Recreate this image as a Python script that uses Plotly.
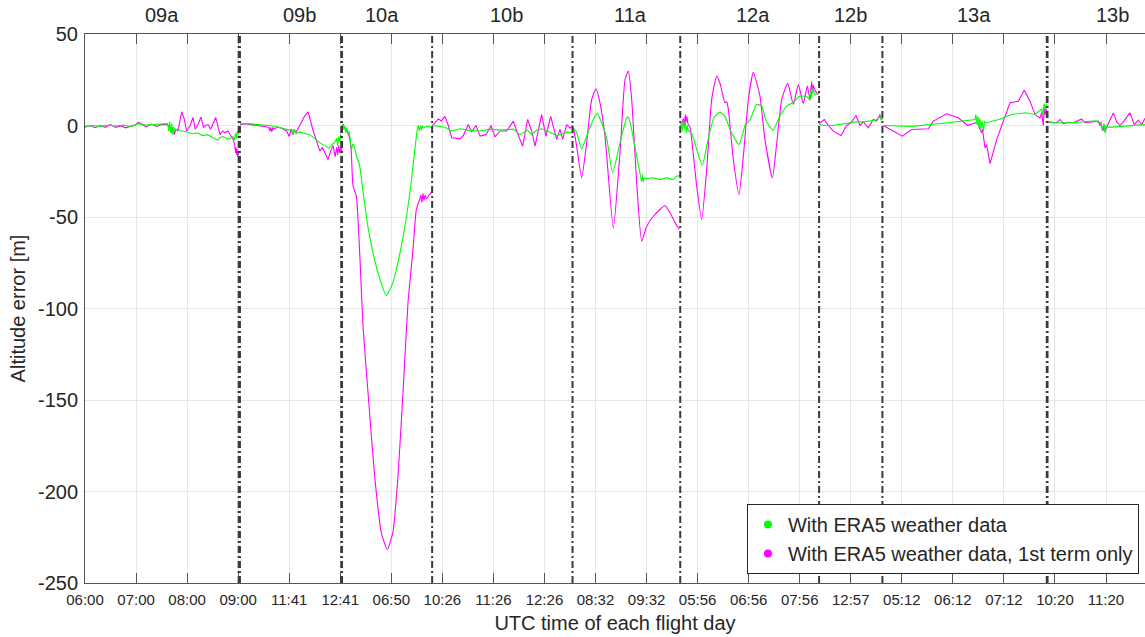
import plotly.graph_objects as go

# Hours elapsed on the concatenated time axis (one tick = one hour), altitude error in metres.
FLIGHTS = ["09a", "09b", "10a", "10b", "11a", "12a", "12b", "13a", "13b"]
FLIGHT_LABEL_T = [1.50, 4.21, 5.82, 8.26, 10.68, 13.09, 15.00, 17.42, 20.12]
BOUNDARIES = [3.01, 3.035, 5.02, 5.035, 6.80, 9.55, 11.66, 14.38, 15.62, 18.84, 18.855]

TICK_T = list(range(21))
TICK_TEXT = ["06:00", "07:00", "08:00", "09:00", "11:41", "12:41", "06:50", "10:26",
             "11:26", "12:26", "08:32", "09:32", "05:56", "06:56", "07:56", "12:57",
             "05:12", "06:12", "07:12", "10:20", "11:20"]
Y_TICKS = [-250, -200, -150, -100, -50, 0, 50]

# With ERA5 weather data
era5_09a = [(0, -0.5), (0.15, 0), (0.3, -0.5), (0.45, 0.3), (0.6, -0.3), (0.75, 0.2), (0.9, -0.5),
            (1.05, 1), (1.2, 0.3), (1.35, 0.5), (1.5, 0.5), (1.62, 1), (1.64, -3), (1.66, 2),
            (1.68, -4), (1.70, 1), (1.72, -5), (1.74, -1), (1.76, -3), (1.8, -2), (1.9, -3),
            (2.0, -3.5), (2.1, -4.5), (2.2, -4), (2.3, -5.5), (2.4, -5), (2.5, -6.5), (2.6, -8),
            (2.65, -6.5), (2.7, -6), (2.8, -7.5), (2.85, -7), (2.9, -6), (2.93, -8), (2.95, -4),
            (2.97, -7), (2.99, -3), (3.01, -5)]
era5_09b = [(3.04, 1), (3.2, 1), (3.4, 0.5), (3.6, 0), (3.8, -1), (4.0, -2.5), (4.05, -2),
            (4.08, -5), (4.1, -2), (4.13, -4.5), (4.2, -3.5), (4.4, -5), (4.5, -7), (4.6, -9.5),
            (4.7, -11), (4.78, -12.5), (4.85, -10), (4.9, -9), (4.93, -7), (4.95, -11),
            (4.97, -6), (4.99, -9), (5.01, -5), (5.03, -7)]
era5_10a = [(5.03, 0), (5.05, 0.5), (5.07, -2), (5.09, -0.5), (5.11, -4), (5.13, -1), (5.15, -5),
            (5.17, -3), (5.19, -6), (5.22, -13), (5.25, -10), (5.28, -12), (5.32, -17),
            (5.38, -22), (5.45, -37), (5.54, -55), (5.67, -73), (5.80, -86), (5.90, -93),
            (6.03, -86), (6.16, -71), (6.29, -51), (6.39, -31), (6.47, -11), (6.51, -2),
            (6.53, 0), (6.55, -3), (6.57, 0), (6.59, -2.5), (6.61, 0), (6.63, -1.5),
            (6.68, -0.5), (6.80, -1)]
era5_10b = [(6.803, 0), (6.9, -0.5), (7.05, -1), (7.18, -3), (7.35, -1.8), (7.5, -2.5),
            (7.74, -3), (7.95, -2), (8.13, -2.5), (8.39, -2), (8.52, -5), (8.67, -2.5),
            (8.75, -5), (8.85, -2.5), (8.95, -1.8), (9.1, -3.5), (9.24, -5.5), (9.36, -4.5),
            (9.45, -3.5), (9.553, -4)]
era5_11a = [(9.553, -1), (9.566, -1.3), (9.631, -4), (9.729, -12.8), (9.827, -5.8), (9.957, 3.3),
            (10.035, 6.6), (10.12, 1.5), (10.218, -6.7), (10.336, -25.9), (10.48, -9.5),
            (10.61, 4.2), (10.643, 4.7), (10.709, -2.2), (10.807, -16.8), (10.905, -30.4),
            (10.92, -27), (10.935, -31), (10.95, -28.6), (11.0, -29), (11.134, -28.6),
            (11.264, -29.5), (11.39, -28.6), (11.52, -29.5), (11.59, -27.7), (11.66, -27.3)]
era5_12a = [(11.66, 0), (11.688, 0.5), (11.70, -3), (11.72, 3), (11.74, -2), (11.76, 2),
            (11.78, -4), (11.80, 0), (11.82, -3), (11.87, -3.5), (11.982, -13), (12.093, -21.9),
            (12.19, -9.5), (12.32, 4.2), (12.439, 7.3), (12.537, 5), (12.635, -2.2),
            (12.811, -10.4), (12.93, 0), (13.03, 3.3), (13.157, 11.5), (13.255, 10.6),
            (13.35, 2), (13.48, -2.5), (13.61, 5), (13.745, 10.6), (13.875, 12.7), (14.0, 16),
            (14.13, 16), (14.2, 14), (14.22, 19), (14.235, 15), (14.25, 20), (14.267, 18.8),
            (14.30, 17), (14.37, 17.5)]
era5_12b = [(14.38, 0.5), (14.5, 0), (14.65, 0), (14.92, 1.1), (15.1, 2), (15.25, 2),
            (15.38, 2.4), (15.5, 3), (15.573, 5), (15.6, 3), (15.618, 4)]
era5_13a = [(15.638, 0), (16.2, -0.5), (16.9, 1.5), (17.2, 2.4), (17.434, 3.3), (17.45, 6),
            (17.47, 1), (17.49, 5), (17.51, -1), (17.53, 4), (17.55, -2), (17.57, 2.5),
            (17.60, -3), (17.62, 2), (17.66, 1.5), (17.9, 3.3), (18.15, 6), (18.43, 7),
            (18.6, 6), (18.74, 9), (18.76, 6), (18.79, 12), (18.81, 8), (18.83, 11.5),
            (18.851, 10)]
era5_13b = [(18.87, 1.5), (19.3, 1.5), (19.8, 2.5), (19.9, 1), (19.93, -2), (19.96, 1),
            (19.98, -4), (20.0, 0), (20.05, -1), (20.3, -0.5), (20.764, 0.5)]

# With ERA5 weather data, 1st term only
first_09a = [(0, -1), (0.1, 0), (0.2, -1.2), (0.3, 0), (0.4, -1), (0.5, 0.5), (0.6, -1),
             (0.7, -0.2), (0.8, -1.3), (0.9, -0.3), (1.0, 0.6), (1.05, 1.8), (1.1, 0.8),
             (1.2, -0.8), (1.3, 0.8), (1.4, -0.5), (1.5, 0.6), (1.6, 0.5), (1.66, -0.5),
             (1.70, -4), (1.73, -1), (1.75, -5), (1.78, -2), (1.82, -3), (1.894, 7.5),
             (1.94, 4), (1.99, -3), (2.06, 0), (2.115, 4.4), (2.16, -2), (2.22, 1), (2.27, 4.6),
             (2.32, -1), (2.36, 0), (2.41, 0.5), (2.46, -2), (2.56, 4.4), (2.645, -5),
             (2.70, -3), (2.74, -4), (2.80, -3), (2.84, -5), (2.90, -7.6), (2.93, -10),
             (2.95, -15), (2.96, -12), (2.97, -16), (2.98, -13), (2.99, -17), (3.0, -15),
             (3.01, -16)]
first_09b = [(3.04, 0.5), (3.13, 1), (3.25, 0.5), (3.4, 0), (3.5, -0.5), (3.6, -1), (3.62, -3),
             (3.64, -1), (3.66, -3.5), (3.68, -1), (3.7, -2), (3.76, -1), (3.85, -1.5),
             (3.95, -3), (4.0, -6), (4.04, -2), (4.07, -5), (4.1, -2), (4.13, -4), (4.2, 0),
             (4.3, 5), (4.37, 7.5), (4.42, 2), (4.47, -3), (4.52, -7), (4.57, -11), (4.60, -14),
             (4.65, -12), (4.70, -15), (4.76, -18.6), (4.81, -14), (4.86, -11), (4.90, -17),
             (4.93, -12), (4.95, -16), (4.97, -11), (4.99, -15), (5.01, -12), (5.03, -14)]
first_10a = [(5.03, 0), (5.054, 0.5), (5.10, -2), (5.152, -4), (5.19, -8), (5.217, -15),
             (5.25, -33), (5.315, -38.6), (5.381, -69.6), (5.446, -109.7), (5.544, -146),
             (5.674, -191.6), (5.805, -222.6), (5.922, -231.7), (6.033, -222), (6.131, -191.6),
             (6.229, -146), (6.327, -96.9), (6.425, -67.8), (6.49, -46), (6.556, -40.4),
             (6.58, -38), (6.60, -42), (6.62, -37), (6.64, -41), (6.66, -38), (6.686, -40),
             (6.74, -38), (6.80, -36)]
first_10b = [(6.803, 0), (6.823, 0.5), (6.921, 3.6), (6.98, 2.5), (7.052, 5), (7.117, 0),
             (7.182, -6.7), (7.346, -7.3), (7.411, -5.5), (7.509, 0.5), (7.574, -3.5),
             (7.659, 0), (7.738, -5.8), (7.855, -5), (7.953, 0), (8.031, -6.2), (8.129, -3),
             (8.26, -3), (8.391, 2.4), (8.456, -3), (8.573, -11.3), (8.671, 3.3), (8.75, -3),
             (8.815, -11.3), (8.945, 6), (9.03, -6), (9.122, 5), (9.24, -7.6), (9.305, -2),
             (9.357, -7.6), (9.436, 0.5), (9.501, -1.5), (9.553, 0)]
first_11a = [(9.553, -0.5), (9.566, -1.3), (9.631, -11.3), (9.729, -28.6), (9.827, -9.5),
             (9.925, 14.2), (10.01, 20), (10.088, 12.4), (10.186, -5.8), (10.349, -56),
             (10.48, -15), (10.578, 25), (10.643, 29.7), (10.709, 14.2), (10.807, -31.3),
             (10.905, -63.2), (11.003, -55), (11.134, -49.6), (11.264, -45.9), (11.362, -43.7),
             (11.46, -47.7), (11.558, -53), (11.643, -56.8)]
first_12a = [(11.66, 1), (11.688, 0.5), (11.72, 4), (11.74, 0), (11.76, 6), (11.773, 2),
             (11.79, 5), (11.81, 1), (11.851, -1), (11.982, -33), (12.08, -51.4),
             (12.178, -24), (12.276, 14.2), (12.374, 27), (12.439, 23), (12.537, 12.4),
             (12.57, 13), (12.602, 9), (12.7, -18.6), (12.811, -37.7), (12.896, -16.8),
             (12.994, 14.2), (13.091, 29.1), (13.157, 23.3), (13.222, 16), (13.32, -7.7),
             (13.464, -28.6), (13.549, -10), (13.647, 14.2), (13.765, 23), (13.875, 11.5),
             (13.973, 22.4), (14.071, 12), (14.15, 21.5), (14.202, 14), (14.22, 20),
             (14.235, 24), (14.25, 18), (14.267, 22), (14.30, 19), (14.333, 17.9),
             (14.378, 17)]
first_12b = [(14.38, 1), (14.398, 1.5), (14.483, 3.3), (14.561, 0), (14.659, -3.1),
             (14.809, -5.5), (14.92, 0), (15.005, 1.5), (15.103, 5.5), (15.181, 0),
             (15.247, 2), (15.344, -1.3), (15.442, 3.3), (15.508, 2.4), (15.573, 6),
             (15.60, 3), (15.618, 4)]
first_13a = [(15.638, 0), (16.01, -5.8), (16.193, -2.2), (16.519, -1.8), (16.617, 2.4),
             (16.878, 6.4), (17.107, 4.2), (17.29, 0), (17.434, 1.5), (17.499, 0.5),
             (17.53, -2), (17.564, -4), (17.58, -2), (17.60, -7), (17.630, -12.2),
             (17.663, -10.5), (17.69, -16), (17.728, -20.8), (17.859, -7.7), (18.022, 5),
             (18.119, 12.4), (18.283, 13.3), (18.4, 19.3), (18.511, 13.3), (18.609, 6),
             (18.707, 4), (18.74, 7), (18.772, 0), (18.79, 10), (18.805, 6), (18.83, 9),
             (18.851, 7)]
first_13b = [(18.87, 2), (18.935, 1.8), (19.033, 1.5), (19.099, 3.3), (19.164, 1),
             (19.262, 1.8), (19.36, 1.5), (19.523, 3.6), (19.589, 1.5), (19.72, 2),
             (19.85, 2.4), (19.88, 0), (19.9, 2), (19.916, -1), (19.94, -3), (19.96, 0),
             (19.981, -3.1), (20.046, 1), (20.144, 6.9), (20.21, 2), (20.274, 0), (20.339, 2),
             (20.47, 6.9), (20.555, 0.5), (20.633, 3), (20.699, 0.5), (20.764, 4)]

ERA5 = [era5_09a, era5_09b, era5_10a, era5_10b, era5_11a, era5_12a, era5_12b, era5_13a, era5_13b]
FIRST = [first_09a, first_09b, first_10a, first_10b, first_11a, first_12a, first_12b,
         first_13a, first_13b]
SMOOTH = {"10a", "11a", "12a"}

GREEN = "#00ff00"
MAGENTA = "#ff00ff"
TEXT = "#262626"
FONT = "Liberation Sans, Arial, sans-serif"

fig = go.Figure()

for series, color in ((FIRST, MAGENTA), (ERA5, GREEN)):
    for name, pts in zip(FLIGHTS, series):
        shape = "spline" if name in SMOOTH else "linear"
        fig.add_trace(go.Scatter(
            x=[p[0] for p in pts], y=[p[1] for p in pts], mode="lines",
            line=dict(color=color, width=1.1, shape=shape, smoothing=0.5),
            showlegend=False, hoverinfo="skip"))

# legend entries drawn as dots
for label, color in (("With ERA5 weather data", GREEN),
                     ("With ERA5 weather data, 1st term only", MAGENTA)):
    fig.add_trace(go.Scatter(x=[None], y=[None], mode="markers", name=label,
                             marker=dict(color=color, size=8)))

for b in BOUNDARIES:
    fig.add_vline(x=b, line=dict(color="#3a3a3a", width=2, dash="7px,3px,2px,3px"), layer="above")

for name, t in zip(FLIGHTS, FLIGHT_LABEL_T):
    fig.add_annotation(x=t, y=1, xref="x", yref="paper", text=name, showarrow=False,
                       yanchor="middle", yshift=19, font=dict(size=20, color=TEXT, family=FONT))

fig.update_layout(
    width=1145, height=637,
    margin=dict(l=85, r=0, t=34, b=54),
    paper_bgcolor="white", plot_bgcolor="white",
    font=dict(family=FONT, color=TEXT),
    legend=dict(x=0.9943, y=0.0164, xanchor="right", yanchor="bottom",
                bgcolor="white", bordercolor=TEXT, borderwidth=1,
                font=dict(size=20, color=TEXT, family=FONT), tracegroupgap=0),
    xaxis=dict(range=[0, 20.764], tickvals=TICK_T, ticktext=TICK_TEXT,
               ticks="inside", ticklen=10, tickcolor="#555555", tickwidth=1,
               showgrid=True, gridcolor="#e6e6e6", zeroline=False,
               showline=True, linecolor="#555555", mirror="ticks",
               tickfont=dict(size=15, color=TEXT), ticklabelstandoff=3,
               title=dict(text="UTC time of each flight day", font=dict(size=20, color=TEXT),
                          standoff=8)),
    yaxis=dict(range=[-250, 50], tickvals=Y_TICKS, ticktext=[str(v) for v in Y_TICKS],
               showgrid=True, gridcolor="#e6e6e6", zeroline=False,
               showline=True, linecolor="#555555", ticks="",
               tickfont=dict(size=20, color=TEXT), ticklabelstandoff=2,
               title=dict(text="Altitude error [m]", font=dict(size=20, color=TEXT),
                          standoff=6)),
)

fig.write_html("out.html")
